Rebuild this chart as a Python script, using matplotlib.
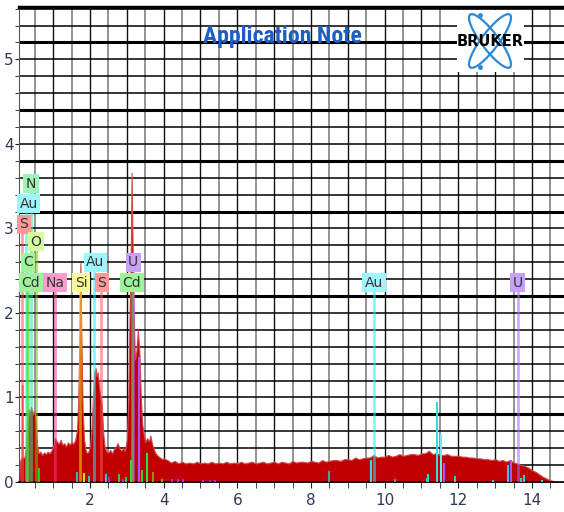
import numpy as np
import matplotlib.pyplot as plt
from matplotlib.patches import Ellipse, Rectangle
from matplotlib import font_manager

# spectrum, low-energy part (keV, counts)
energy_low = [0.08, 0.10, 0.12, 0.15, 0.16, 0.17, 0.20, 0.23, 0.26, 0.28, 0.30, 0.33, 0.36, 0.40,
              0.43, 0.46, 0.50, 0.53, 0.56, 0.60, 0.65, 0.70, 0.75, 0.80, 0.85, 0.90, 0.95,
              1.00, 1.05, 1.10, 1.15, 1.20, 1.25, 1.30, 1.35, 1.40, 1.45, 1.50, 1.55, 1.60,
              1.65, 1.68, 1.71, 1.74, 1.77, 1.80, 1.84, 1.88, 1.92, 1.96, 2.00, 2.04, 2.08,
              2.12, 2.15, 2.18, 2.21, 2.24, 2.28, 2.32, 2.36, 2.40, 2.45, 2.50, 2.55, 2.60,
              2.65, 2.70, 2.75, 2.80, 2.85, 2.90, 2.95, 3.00, 3.04, 3.08, 3.11, 3.13, 3.15,
              3.18, 3.22, 3.26, 3.30, 3.34, 3.38, 3.42, 3.46, 3.50, 3.55, 3.60, 3.64, 3.68,
              3.72, 3.78, 3.84, 3.90, 3.96, 4.00]
counts_low = [0.00, 0.24, 0.27, 0.30, 1.15, 0.30, 0.28, 0.31, 0.42, 0.60, 0.74, 0.86, 0.80, 0.89,
              0.85, 0.80, 0.84, 0.70, 0.45, 0.34, 0.36, 0.32, 0.35, 0.33, 0.36, 0.34, 0.37,
              0.42, 0.52, 0.48, 0.45, 0.50, 0.44, 0.46, 0.42, 0.47, 0.44, 0.48, 0.45, 0.50,
              0.62, 0.95, 1.60, 2.59, 1.60, 0.85, 0.50, 0.38, 0.34, 0.36, 0.42, 0.60, 1.00,
              1.30, 1.35, 1.25, 1.30, 1.15, 1.02, 0.92, 0.57, 0.41, 0.36, 0.35, 0.38, 0.34,
              0.39, 0.41, 0.46, 0.40, 0.37, 0.40, 0.37, 0.50, 0.95, 2.10, 2.80, 3.66, 3.00,
              2.10, 1.45, 1.55, 1.80, 1.55, 1.00, 0.68, 0.56, 0.47, 0.52, 0.48, 0.55, 0.46,
              0.40, 0.34, 0.31, 0.29, 0.27, 0.28]

# background part, one row per keV
energy_high = [4.1, 4.2, 4.3, 4.4, 4.5, 4.6, 4.7, 4.8, 4.9, 5.0,
               5.1, 5.2, 5.3, 5.4, 5.5, 5.6, 5.7, 5.8, 5.9, 6.0,
               6.1, 6.2, 6.3, 6.4, 6.5, 6.6, 6.7, 6.8, 6.9, 7.0,
               7.1, 7.2, 7.3, 7.4, 7.5, 7.6, 7.7, 7.8, 7.9, 8.0,
               8.1, 8.2, 8.3, 8.4, 8.5, 8.6, 8.7, 8.8, 8.9, 9.0,
               9.1, 9.2, 9.3, 9.4, 9.5, 9.6, 9.7, 9.8, 9.9, 10.0,
               10.1, 10.2, 10.3, 10.4, 10.5, 10.6, 10.7, 10.8, 10.9, 11.0,
               11.1, 11.2, 11.3, 11.4, 11.5, 11.6, 11.7, 11.8, 11.9, 12.0,
               12.1, 12.2, 12.3, 12.4, 12.5, 12.6, 12.7, 12.8, 12.9, 13.0,
               13.1, 13.2, 13.3, 13.4, 13.5, 13.6, 13.7, 13.8, 13.9, 14.0,
               14.1, 14.2, 14.3, 14.4, 14.5, 14.6, 14.7, 14.9]
counts_high = [0.26, 0.23, 0.25, 0.22, 0.24, 0.22, 0.23, 0.22, 0.24, 0.22,
               0.23, 0.22, 0.24, 0.22, 0.23, 0.22, 0.24, 0.22, 0.23, 0.22,
               0.24, 0.22, 0.23, 0.24, 0.22, 0.23, 0.24, 0.22, 0.23, 0.24,
               0.22, 0.24, 0.23, 0.22, 0.25, 0.23, 0.24, 0.24, 0.23, 0.25,
               0.24, 0.23, 0.26, 0.24, 0.25, 0.26, 0.26, 0.25, 0.27, 0.27,
               0.26, 0.29, 0.27, 0.28, 0.29, 0.29, 0.32, 0.29, 0.30, 0.30,
               0.32, 0.30, 0.31, 0.33, 0.31, 0.32, 0.33, 0.33, 0.32, 0.34,
               0.34, 0.37, 0.33, 0.34, 0.32, 0.32, 0.33, 0.31, 0.31, 0.31,
               0.30, 0.30, 0.29, 0.29, 0.28, 0.28, 0.27, 0.27, 0.26, 0.27,
               0.25, 0.26, 0.24, 0.26, 0.23, 0.22, 0.20, 0.19, 0.17, 0.14,
               0.12, 0.09, 0.06, 0.04, 0.02, 0.01, 0.00, 0.00]

# element labels: name, line energy, label centre (keV, counts)
label_names = ['N', 'Au', 'S', 'O', 'C', 'Cd', 'Na', 'Si', 'Au', 'S', 'U', 'Cd', 'Au', 'U']
label_energy = [0.39, 0.25, 0.15, 0.525, 0.277, 0.31, 1.04, 1.74, 2.12, 2.31, 3.17, 3.13, 9.71, 13.61]
label_x = [0.40, 0.34, 0.20, 0.53, 0.32, 0.40, 1.05, 1.76, 2.14, 2.32, 3.17, 3.14, 9.71, 13.61]
label_y = [3.53, 3.29, 3.05, 2.84, 2.60, 2.36, 2.36, 2.36, 2.60, 2.36, 2.60, 2.36, 2.36, 2.36]
box_colors = {'N': '#9ff2b8', 'Au': '#9ef6fc', 'S': '#fb9a9a', 'O': '#d4fb9c', 'C': '#9ef29a',
              'Cd': '#9ef29a', 'Na': '#fb9ccc', 'Si': '#fbf89c', 'U': '#c8a0fa'}
line_colors = {'N': '#22ee88', 'Au': '#22eeff', 'S': '#ff5555', 'O': '#88bb00', 'C': '#33ee33',
               'Cd': '#55dd33', 'Na': '#ff3399', 'Si': '#ffdd00', 'U': '#aa66ff'}

# small element lines near the baseline
minor_energy = [0.62, 1.66, 1.84, 1.98, 2.43, 2.52, 2.79, 2.89, 2.97, 3.12, 3.34, 3.40, 3.54,
                3.70, 3.96, 4.22, 4.40, 4.52, 5.07, 5.26, 5.40, 8.49, 9.63, 10.28, 11.15,
                11.18, 11.42, 11.53, 11.60, 11.91, 12.94, 13.35, 13.42, 13.70, 13.79, 14.27]
minor_height = [0.16, 0.12, 0.11, 0.07, 0.10, 0.06, 0.10, 0.04, 0.06, 0.26, 1.48, 0.14, 0.34,
                0.12, 0.04, 0.03, 0.03, 0.03, 0.02, 0.02, 0.02, 0.13, 0.26, 0.03, 0.05,
                0.10, 0.95, 0.57, 0.22, 0.07, 0.02, 0.20, 0.26, 0.05, 0.08, 0.02]
minor_colors = ['#22cc22', '#22bbcc', '#dddd00', '#22cccc', '#22cccc', '#9933ff', '#33cc33',
                '#9933ff', '#33cc33', '#33dd33', '#aa55ff', '#33cc33', '#33dd33', '#889900',
                '#33cc33', '#9933ff', '#9933ff', '#9933ff', '#9933ff', '#9933ff', '#9933ff',
                '#33aaaa', '#33dddd', '#33aaaa', '#33cccc', '#33cccc', '#33dddd', '#66eeee',
                '#aa55ff', '#33cccc', '#33cccc', '#33cccc', '#aa55ff', '#33cccc', '#33cccc',
                '#33cccc']

energy = energy_low + energy_high
counts = counts_low + counts_high

# a narrow face for the title, if one is installed
installed = {f.name for f in font_manager.fontManager.ttflist}
narrow = [n for n in ['Liberation Sans Narrow', 'Roboto Condensed', 'Open Sans Condensed']
          if n in installed]
condensed_dejavu = any(f.name == 'DejaVu Sans' and f.stretch == 'condensed'
                       for f in font_manager.fontManager.ttflist)

fig = plt.figure(figsize=(5.64, 5.12), dpi=100)
ax = fig.add_axes([19/564, 30/512, 545/564, 475/512])
ax.set_xlim(0.073, 14.87)
ax.set_ylim(0, 5.62)

# grid
for v in np.arange(0.5, 14.8, 0.5):
    if v % 1 == 0:
        ax.axvline(v, color='#111111', lw=1.0, zorder=0)
    else:
        ax.axvline(v, color='#8a8a8a', lw=1.3, zorder=0)
thick = [0.8, 2.2, 3.2, 3.8, 4.4, 5.2]
for h in np.arange(0.2, 5.61, 0.2):
    lw = 2.2 if any(abs(h - t) < 0.01 for t in thick) else 1.1
    ax.axhline(h, color='black', lw=lw, zorder=0)

ax.fill_between(energy, counts, color='#c00000', lw=0.8, edgecolor='#d44a4a', zorder=2)

for name, e, y in zip(label_names, label_energy, label_y):
    ax.plot([e, e], [0, y], color=line_colors[name], lw=2, alpha=0.55, zorder=3,
            solid_capstyle='butt')
ax.vlines(minor_energy, 0, minor_height, colors=minor_colors, lw=1.5, zorder=4)
for name, x, y in zip(label_names, label_x, label_y):
    ax.text(x, y, name, ha='center', va='center', fontsize=10, color='#333333', zorder=5,
            bbox=dict(boxstyle='square,pad=0.18', fc=box_colors[name], ec='none'))

ax.spines['right'].set_visible(False)
ax.spines['top'].set_linewidth(2.5)
ax.spines['left'].set_color('#555555')
ax.spines['bottom'].set_linewidth(1.2)

ax.set_xticks(range(2, 15, 2))
ax.set_xticks(np.arange(0.5, 14.8, 0.5), minor=True)
ax.set_yticks(range(0, 6))
ax.set_yticks(np.arange(0, 5.61, 0.2), minor=True)
ax.tick_params(axis='both', which='both', direction='out', color='#222222', labelsize=11,
               labelcolor='#2f3a55')
ax.tick_params(axis='x', which='both', length=4, pad=4)
ax.tick_params(axis='y', which='both', length=3, pad=1)

if narrow:
    fig.text(282/564, 1 - 37/512, 'Application Note', ha='center', va='center', fontsize=17,
             fontweight='bold', color='#1f5cc4', family=narrow[0])
elif condensed_dejavu:
    fig.text(282/564, 1 - 37/512, 'Application Note', ha='center', va='center', fontsize=15,
             fontweight='bold', color='#1f5cc4', family='DejaVu Sans', fontstretch='condensed')
else:
    fig.text(282/564, 1 - 37/512, 'Application Note', ha='center', va='center', fontsize=13.5,
             fontweight='bold', color='#1f5cc4', family='Liberation Sans')

# logo
lax = fig.add_axes([457/564, 1 - 72/512, 67/564, 62/512])
lax.set_xlim(0, 67)
lax.set_ylim(0, 62)
lax.axis('off')
lax.add_patch(Rectangle((0, 0), 67, 62, fc='white', ec='none'))
for ang in (53, -53):
    lax.add_patch(Ellipse((33, 31), 66, 17, angle=ang, fill=False, ec='#2b8ad6', lw=1.6))
lax.plot([23, 23], [57, 5], 'o', color='#2b8ad6', ms=2.5)
lax.text(33, 31, 'BRUKER', ha='center', va='center', fontsize=10.5, fontweight='bold',
         color='black')

fig.savefig('out.png', dpi=100)
